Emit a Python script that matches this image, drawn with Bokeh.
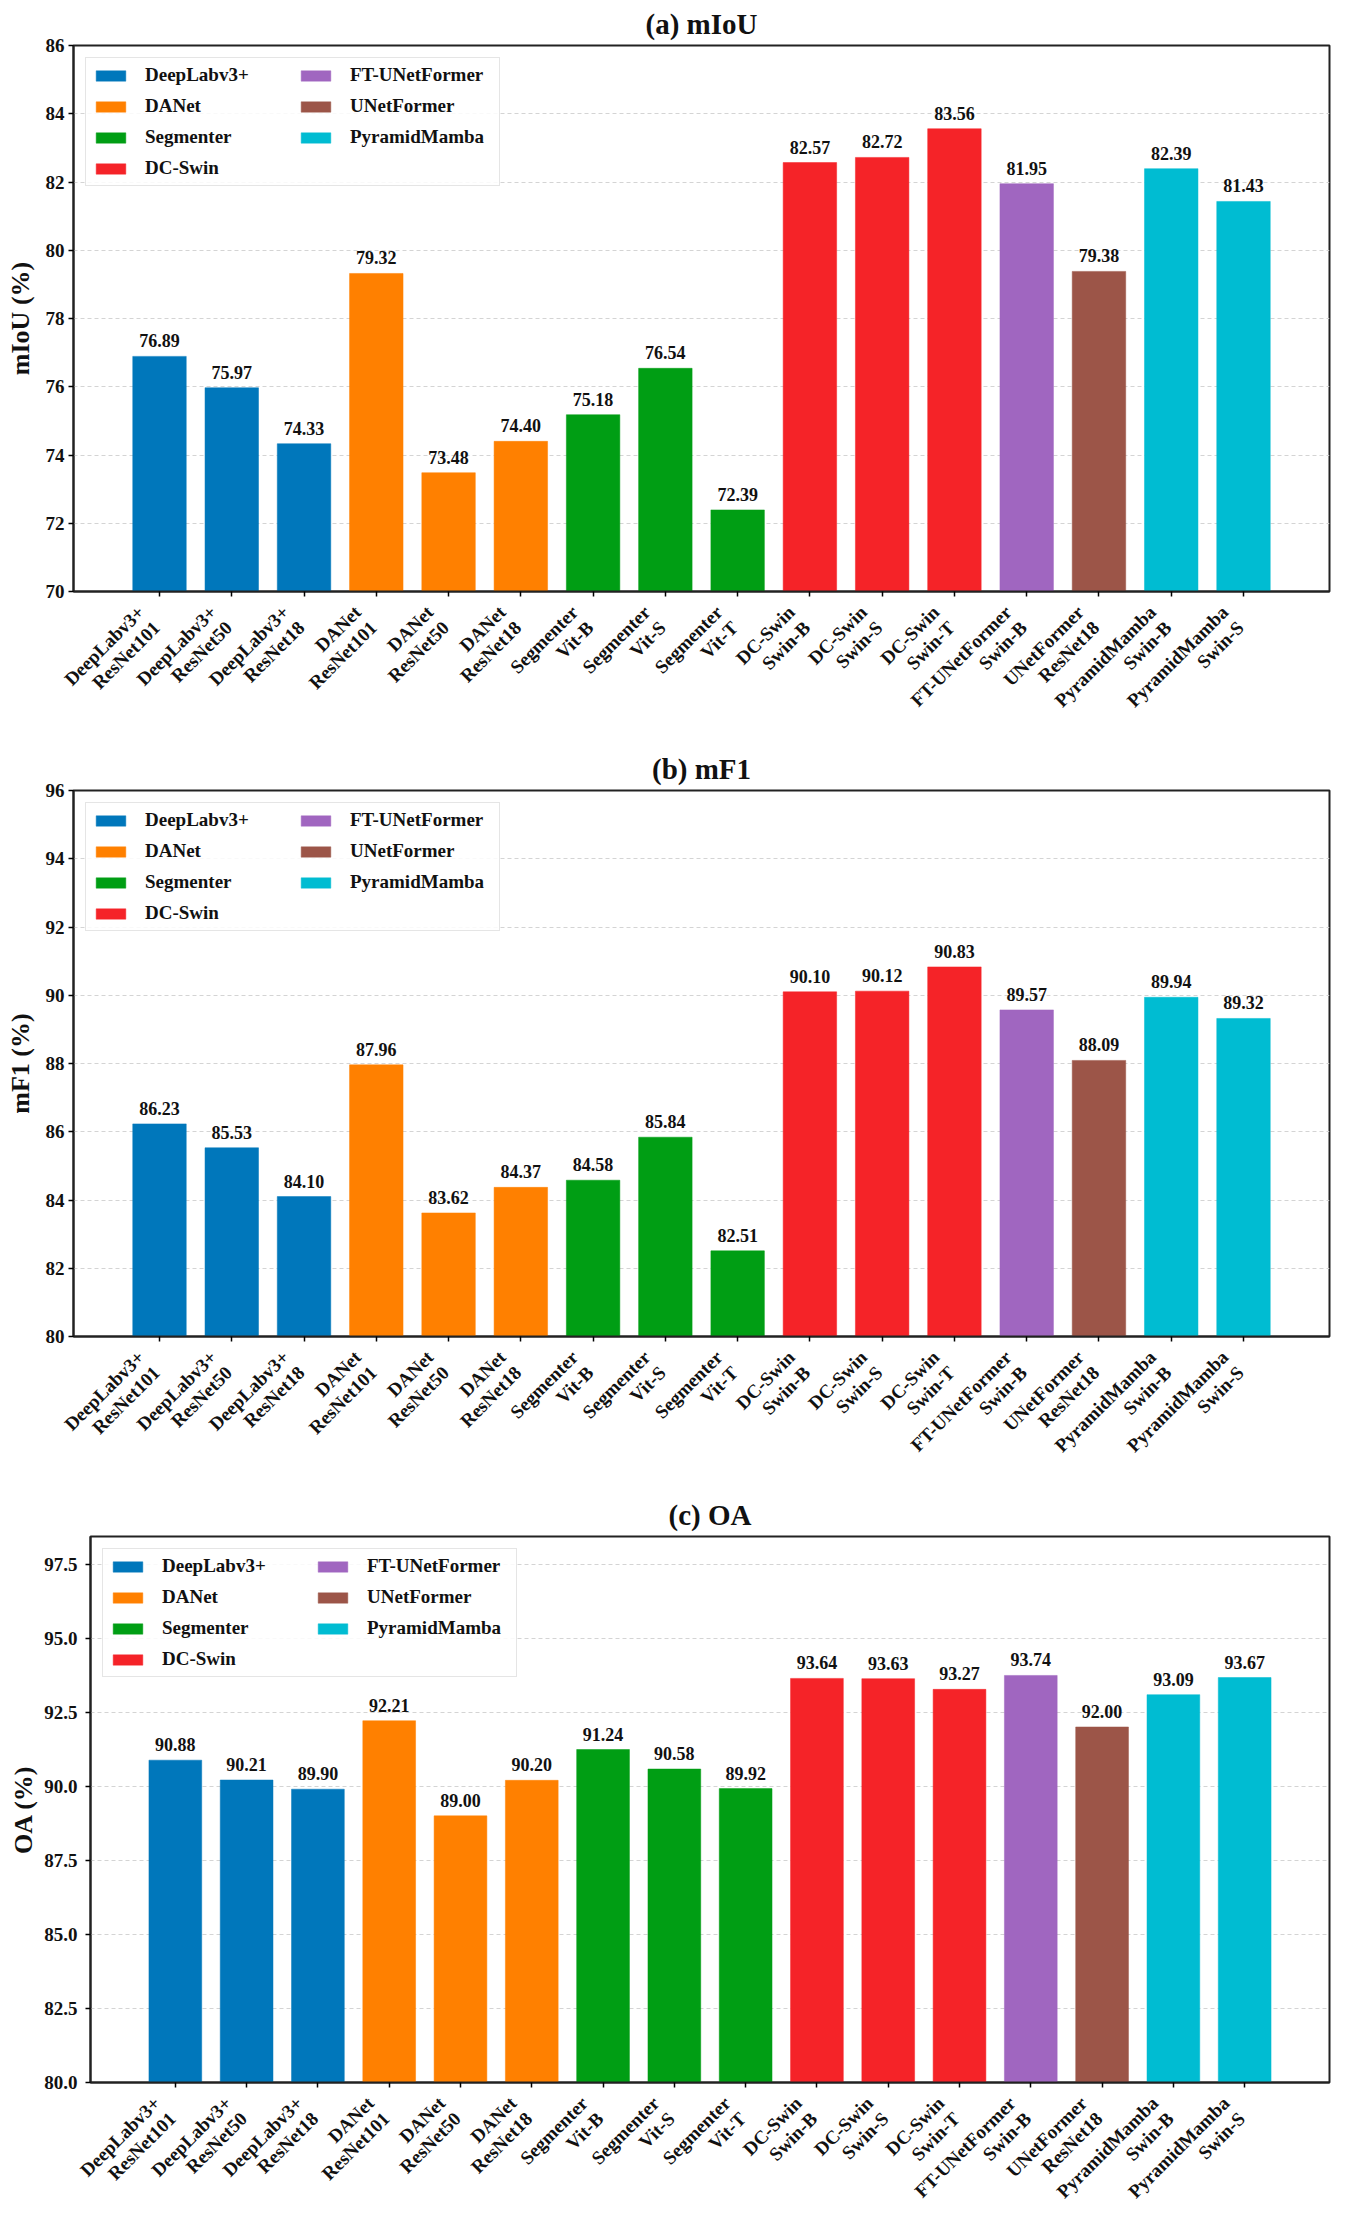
import math
from bokeh.plotting import figure
from bokeh.models import (ColumnDataSource, Range1d, FixedTicker, LabelSet, Legend,
                          LegendItem, NumeralTickFormatter)
from bokeh.layouts import column
from bokeh.embed import file_html
from bokeh.resources import INLINE

# ---------------- data ----------------
methods = ["DeepLabv3+", "DeepLabv3+", "DeepLabv3+", "DANet", "DANet", "DANet",
           "Segmenter", "Segmenter", "Segmenter", "DC-Swin", "DC-Swin", "DC-Swin",
           "FT-UNetFormer", "UNetFormer", "PyramidMamba", "PyramidMamba"]
backbones = ["ResNet101", "ResNet50", "ResNet18", "ResNet101", "ResNet50", "ResNet18",
             "Vit-B", "Vit-S", "Vit-T", "Swin-B", "Swin-S", "Swin-T",
             "Swin-B", "ResNet18", "Swin-B", "Swin-S"]
miou = [76.89, 75.97, 74.33, 79.32, 73.48, 74.40, 75.18, 76.54, 72.39,
        82.57, 82.72, 83.56, 81.95, 79.38, 82.39, 81.43]
mf1 = [86.23, 85.53, 84.10, 87.96, 83.62, 84.37, 84.58, 85.84, 82.51,
       90.10, 90.12, 90.83, 89.57, 88.09, 89.94, 89.32]
oa = [90.88, 90.21, 89.90, 92.21, 89.00, 90.20, 91.24, 90.58, 89.92,
      93.64, 93.63, 93.27, 93.74, 92.00, 93.09, 93.67]

families = ["DeepLabv3+", "DANet", "Segmenter", "DC-Swin",
            "FT-UNetFormer", "UNetFormer", "PyramidMamba"]
family_colors = ["#0077BB", "#FF8000", "#009E14", "#F52328",
                 "#A066C0", "#9C5548", "#00BCD2"]

miou_ticks = [70, 72, 74, 76, 78, 80, 82, 84, 86]
mf1_ticks = [80, 82, 84, 86, 88, 90, 92, 94, 96]
oa_ticks = [80.0, 82.5, 85.0, 87.5, 90.0, 92.5, 95.0, 97.5]

FONT = "Liberation Serif"

X0, X1 = -1.19, 16.19
FIG_W = 1337
BORDER_R = 8
FRAME_H = 546
TOP = 44
BOTTOM = 8
XLAB_SIZE = 19
XLAB_LINE = 22  # distance between the two lines of a category name


def no_align(fig):
    # keep every figure's frame where its own borders put it
    try:
        fig.frame_align = False
    except Exception:
        pass


def make_panel(title, ylabel, values, y0, y1, yticks, fmt, border_left,
               ylab_standoff, ylab_tick_standoff):
    p = figure(width=FIG_W, height=TOP + FRAME_H + BOTTOM, frame_height=FRAME_H,
               output_backend="svg", toolbar_location=None,
               x_range=Range1d(X0, X1), y_range=Range1d(y0, y1),
               min_border_left=border_left, min_border_right=BORDER_R,
               min_border_top=TOP, min_border_bottom=BOTTOM,
               background_fill_color="white", border_fill_color="white")
    no_align(p)
    p.title.text = title
    p.title.align = "center"
    p.title.text_font = FONT
    p.title.text_font_size = "29px"
    p.title.text_font_style = "bold"
    p.title.text_color = "#111111"
    p.title.standoff = 11

    p.outline_line_color = "#222222"
    p.outline_line_width = 2

    p.xgrid.visible = False
    p.ygrid.grid_line_color = "#d4d4d4"
    p.ygrid.grid_line_dash = "4 3"
    p.ygrid.grid_line_width = 1

    items = []
    for fam, col in zip(families, family_colors):
        idx = [i for i, m in enumerate(methods) if m == fam]
        src = ColumnDataSource(dict(x=idx, top=[values[i] for i in idx]))
        r = p.vbar(x="x", top="top", bottom=y0, width=0.74, source=src,
                   fill_color=col, line_color=col, line_width=1, line_alpha=0.5)
        items.append(LegendItem(label=fam, renderers=[r]))

    lab_src = ColumnDataSource(dict(x=list(range(len(values))), y=values,
                                    t=[f"{v:.2f}" for v in values]))
    p.add_layout(LabelSet(x="x", y="y", text="t", source=lab_src, y_offset=9,
                          text_align="center", text_baseline="alphabetic",
                          text_font=FONT, text_font_size="18px",
                          text_font_style="bold", text_color="#111111"))

    leg = Legend(items=items, location="top_left", ncols=2, orientation="vertical")
    leg.margin = 12
    leg.padding = 6
    leg.spacing = 9
    leg.glyph_width = 37
    leg.glyph_height = 13
    leg.label_height = 20
    leg.label_width = 143
    leg.label_standoff = 16
    leg.label_text_font = FONT
    leg.label_text_font_size = "19px"
    leg.label_text_font_style = "bold"
    leg.label_text_color = "#111111"
    leg.border_line_color = "#cccccc"
    leg.border_line_width = 1
    leg.background_fill_alpha = 0.85
    p.add_layout(leg)

    # x axis: tick marks only (names are drawn in the strip below)
    xa = p.xaxis[0]
    xa.ticker = FixedTicker(ticks=list(range(len(values))))
    xa.major_label_overrides = {i: "" for i in range(len(values))}
    xa.major_label_text_font_size = "0px"
    xa.major_label_standoff = 0
    xa.minor_tick_line_color = None
    xa.major_tick_out = 5
    xa.major_tick_in = 0
    xa.axis_line_width = 2
    xa.axis_line_color = "#222222"
    xa.major_tick_line_width = 1.5

    ya = p.yaxis[0]
    ya.ticker = FixedTicker(ticks=yticks)
    ya.formatter = NumeralTickFormatter(format=fmt)
    ya.major_label_text_font = FONT
    ya.major_label_text_font_size = "19px"
    ya.major_label_text_font_style = "bold"
    ya.major_label_text_color = "#111111"
    ya.major_label_standoff = ylab_tick_standoff
    ya.minor_tick_line_color = None
    ya.major_tick_out = 5
    ya.major_tick_in = 0
    ya.axis_line_width = 2
    ya.axis_line_color = "#222222"
    ya.major_tick_line_width = 1.5
    ya.axis_label = ylabel
    ya.axis_label_text_font = FONT
    ya.axis_label_text_font_size = "26px"
    ya.axis_label_text_font_style = "bold"
    ya.axis_label_text_color = "#111111"
    ya.axis_label_standoff = ylab_standoff
    return p


def make_strip(border_left, height):
    # a frame spanning the whole figure width with the same x mapping as the panel above
    frame_px = FIG_W - border_left - BORDER_R
    upp = (X1 - X0) / frame_px
    n = len(methods)
    q = figure(width=FIG_W, height=height, output_backend="svg", toolbar_location=None,
               title=None,
               x_range=Range1d(X0 - border_left * upp, X1 + BORDER_R * upp),
               y_range=Range1d(0, 1), x_axis_location=None, y_axis_location=None,
               min_border_left=0, min_border_right=0, min_border_top=0,
               min_border_bottom=0, outline_line_color=None,
               background_fill_color="white", border_fill_color="white")
    no_align(q)
    q.xgrid.visible = False
    q.ygrid.visible = False
    # two right-aligned lines per category, rotated 45 degrees
    step = XLAB_LINE / math.sqrt(2)
    for texts, dx, dy in ((methods, -26, -2), (backbones, -26 + step, -2 - step)):
        s = ColumnDataSource(dict(x=list(range(n)), y=[1.0] * n, t=list(texts)))
        q.add_layout(LabelSet(x="x", y="y", text="t", source=s,
                              x_offset=dx, y_offset=dy, angle=math.pi / 4,
                              text_align="right", text_baseline="top",
                              text_font=FONT, text_font_size=f"{XLAB_SIZE}px",
                              text_font_style="bold", text_color="#111111"))
    return q


pa = make_panel("(a) mIoU", "mIoU (%)", miou, 70, 86, miou_ticks, "0", 73, 8, 4)
sa = make_strip(73, 146)
pb = make_panel("(b) mF1", "mF1 (%)", mf1, 80, 96, mf1_ticks, "0", 73, 8, 4)
sb = make_strip(73, 147)
pc = make_panel("(c) OA", "OA (%)", oa, 80, 98.43, oa_ticks, "0.0", 90, 3, 8)
sc = make_strip(90, 113)

layout = column(pa, sa, pb, sb, pc, sc, spacing=0)
open("out.html", "w").write(file_html(layout, INLINE))
